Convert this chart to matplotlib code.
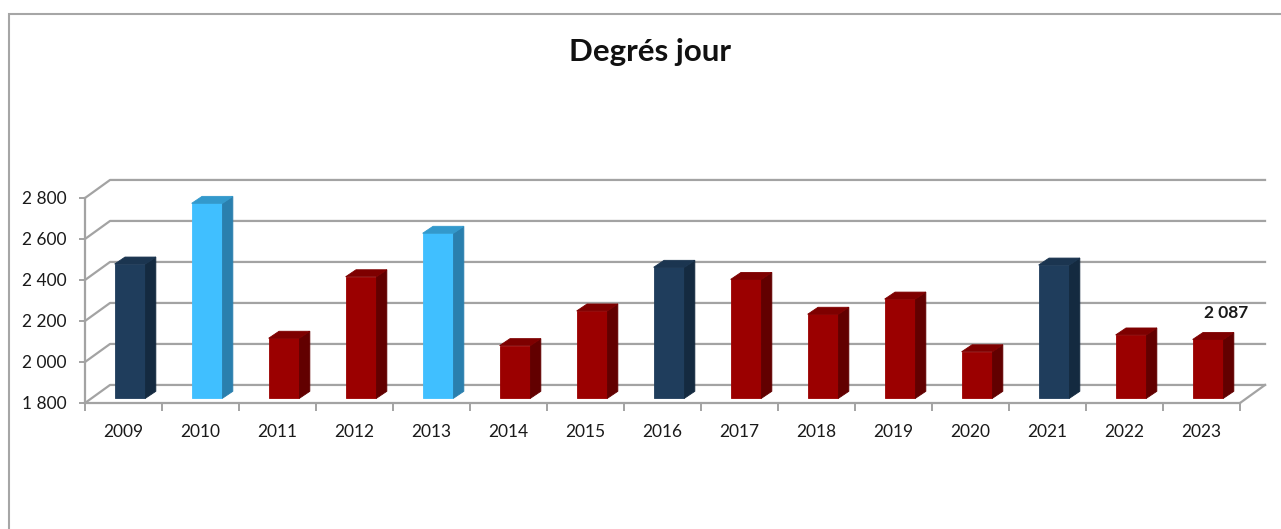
import numpy as np
import matplotlib
matplotlib.use('Agg')
import matplotlib.pyplot as plt
from matplotlib.patches import Polygon, Rectangle

plt.rcParams['font.family'] = ['Lato', 'DejaVu Sans']

# Données : degrés jour par année
years = ['2009', '2010', '2011', '2012', '2013', '2014', '2015', '2016',
         '2017', '2018', '2019', '2020', '2021', '2022', '2023']
values = [2455, 2751, 2093, 2393, 2605, 2057, 2226, 2439,
          2380, 2210, 2284, 2027, 2450, 2109, 2087]
groups = ['navy', 'light', 'red', 'red', 'light', 'red', 'red', 'navy',
          'red', 'red', 'red', 'red', 'navy', 'red', 'red']
label_year = '2023'
y_ticks = [1800, 2000, 2200, 2400, 2600, 2800]

# couleurs (face, côté, dessus)
palette = {
    'navy': ('#1f3d5c', '#142a40', '#1b3550'),
    'light': ('#40bfff', '#2a7fae', '#3399cc'),
    'red': ('#9b0000', '#620000', '#7e0000'),
}
grid_col = '#a3a3a3'

# effet 3D (en unités de données)
ddx, ddy = 0.325, 88     # profondeur des parois
pdx, pdy = 0.085, 23     # plan des barres
bdx, bdy = 0.135, 34     # profondeur des barres
w = 0.4
base = 1800

fig = plt.figure(figsize=(12.81, 5.29), dpi=100)
W, H = 1281, 529
ax = fig.add_axes([85 / W, 1 - 403 / H, 1155 / W, 205 / H])
ax.set_xlim(-0.5, len(years) - 0.5)
ax.set_ylim(base, 2800)
ax.patch.set_alpha(0)

x = np.arange(len(years))
xmax = len(years) - 0.5

# parois : lignes de quadrillage
for v in y_ticks:
    ax.plot([-0.5, -0.5 + ddx, xmax + ddx], [v, v + ddy, v + ddy],
            color=grid_col, lw=1.6, clip_on=False, zorder=1)
# sol : bord droit
ax.plot([xmax, xmax + ddx], [base, base + ddy], color=grid_col, lw=1.6,
        clip_on=False, zorder=1)

# barres
vals = np.array(values)
faces = [palette[g][0] for g in groups]
ax.bar(x + pdx, vals - base, bottom=base + pdy, width=w, color=faces,
       edgecolor=faces, linewidth=0.6, zorder=3, clip_on=False)
for xi, v, g in zip(x, vals, groups):
    _, side, topc = palette[g]
    xl = xi + pdx - w / 2
    xr = xi + pdx + w / 2
    b = base + pdy
    t = v + pdy
    ax.add_patch(Polygon([(xr, b), (xr + bdx, b + bdy), (xr + bdx, t + bdy), (xr, t)],
                         closed=True, fc=side, ec=side, lw=0.6, zorder=3, clip_on=False))
    ax.add_patch(Polygon([(xl, t), (xr, t), (xr + bdx, t + bdy), (xl + bdx, t + bdy)],
                         closed=True, fc=topc, ec=topc, lw=0.6, zorder=3, clip_on=False))

# étiquette de la dernière valeur
i = years.index(label_year)
ax.text(i + pdx + bdx + 0.1, values[i] + pdy + 130,
        f'{values[i]:,}'.replace(',', ' '), ha='center', va='center',
        fontsize=12.5, fontweight='bold', color='#1a1a1a', zorder=4)

# axes
for s in ['top', 'right']:
    ax.spines[s].set_visible(False)
for s in ['left', 'bottom']:
    ax.spines[s].set_color(grid_col)
    ax.spines[s].set_linewidth(1.6)
    ax.spines[s].set_zorder(2)

ax.set_yticks(y_ticks)
ax.set_yticklabels([f'{v:,}'.replace(',', ' ') for v in y_ticks])
ax.tick_params(axis='y', length=4, width=1.4, color=grid_col, pad=9,
               labelsize=12.5, labelcolor='#1a1a1a')
ax.set_xticks(x)
ax.set_xticklabels(years)
ax.set_xticks(np.arange(len(years) + 1) - 0.5, minor=True)
ax.tick_params(axis='x', which='major', length=0, pad=15, labelsize=12.5,
               labelcolor='#1a1a1a')
ax.tick_params(axis='x', which='minor', length=6, width=1.4, color=grid_col)

# titre
fig.text(650 / W, 1 - 52 / H, 'Degrés jour', ha='center', va='center',
         fontsize=22.5, fontweight='bold', color='#111111')

# cadre du graphique
fig.add_artist(Rectangle((9 / W, -0.1), 1.2, 1 - 14 / H + 0.1,
                         transform=fig.transFigure, fill=False,
                         ec='#a6a6a6', lw=1.5))

fig.savefig('out.png', dpi=100, facecolor='white')
